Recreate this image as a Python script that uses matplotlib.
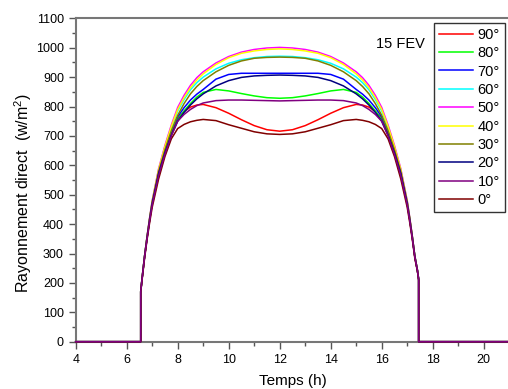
import matplotlib
matplotlib.use('Agg')
import matplotlib.pyplot as plt
from matplotlib.ticker import MultipleLocator

plt.rcParams['font.family'] = ['Liberation Sans', 'DejaVu Sans']
plt.rcParams['mathtext.fontset'] = 'custom'
plt.rcParams['mathtext.rm'] = 'Liberation Sans'
plt.rcParams['mathtext.it'] = 'Liberation Sans:italic'

# time samples (h)
times = [6.55, 6.6, 6.7, 6.8, 6.9, 7.0, 7.25, 7.5, 7.75, 8.0, 8.25, 8.5, 8.75, 9.0, 9.5, 10.0,
         10.5, 11.0, 11.5, 12.0, 12.5, 13.0, 13.5, 14.0, 14.5, 15.0, 15.25, 15.5, 15.75, 16.0,
         16.25, 16.5, 16.75, 17.0, 17.1, 17.2, 17.3, 17.4, 17.45]

v90 = [170, 212, 288, 354, 414, 469, 570, 643, 705, 760, 783, 798, 805, 807, 796, 777, 755, 735, 721, 716,
       721, 735, 755, 777, 796, 807, 805, 798, 783, 760, 705, 643, 570, 469, 414, 354, 288, 242, 211]
v80 = [171, 213, 290, 356, 417, 472, 575, 648, 708, 755, 785, 810, 832, 848, 858, 853, 844, 836, 830, 828,
       830, 836, 844, 853, 858, 848, 832, 810, 785, 755, 708, 648, 575, 472, 417, 356, 290, 243, 212]
v70 = [171, 213, 290, 357, 418, 474, 577, 651, 713, 765, 796, 822, 842, 858, 893, 909, 913, 913, 913, 913,
       913, 913, 913, 909, 893, 858, 842, 822, 796, 765, 713, 651, 577, 474, 418, 357, 290, 243, 212]
v60 = [172, 214, 291, 358, 420, 477, 583, 661, 728, 785, 824, 857, 881, 900, 928, 947, 959, 966, 970, 971,
       970, 966, 959, 947, 928, 900, 881, 857, 824, 785, 728, 661, 583, 477, 420, 358, 291, 244, 213]
v50 = [172, 215, 292, 360, 423, 480, 588, 668, 737, 797, 838, 872, 898, 918, 948, 970, 985, 994, 999, 1001,
       999, 994, 985, 970, 948, 918, 898, 872, 838, 797, 737, 668, 588, 480, 423, 360, 292, 245, 214]
v40 = [172, 214, 291, 359, 421, 478, 585, 664, 732, 790, 830, 864, 890, 911, 943, 966, 981, 989, 994, 996,
       994, 989, 981, 966, 943, 911, 890, 864, 830, 790, 732, 664, 585, 478, 421, 359, 291, 244, 213]
v30 = [171, 213, 290, 357, 418, 474, 578, 653, 717, 770, 810, 843, 868, 888, 918, 940, 955, 964, 967, 968,
       967, 964, 955, 940, 918, 888, 868, 843, 810, 770, 717, 653, 578, 474, 418, 357, 290, 243, 212]
v20 = [170, 212, 289, 355, 416, 471, 572, 643, 702, 750, 780, 805, 826, 843, 870, 888, 899, 904, 906, 907,
       906, 904, 899, 888, 870, 843, 826, 805, 780, 750, 702, 643, 572, 471, 416, 355, 289, 243, 212]
v10 = [170, 211, 287, 352, 412, 466, 565, 638, 700, 750, 773, 790, 803, 812, 820, 822, 822, 821, 820, 819,
       820, 821, 822, 822, 820, 812, 803, 790, 773, 750, 700, 638, 565, 466, 412, 352, 287, 242, 211]
v0 = [168, 208, 283, 348, 405, 457, 553, 630, 690, 725, 739, 748, 753, 756, 752, 738, 726, 714, 707, 705,
      707, 714, 726, 738, 752, 756, 753, 748, 739, 725, 690, 630, 553, 457, 405, 348, 283, 240, 209]

labels = ['90°', '80°', '70°', '60°', '50°', '40°', '30°', '20°', '10°', '0°']
colors = ['#FF0000', '#00FF00', '#0000FF', '#00FFFF', '#FF00FF', '#FFFF00',
          '#808000', '#000080', '#800080', '#800000']
series = [v90, v80, v70, v60, v50, v40, v30, v20, v10, v0]

fig = plt.figure(figsize=(5.08, 3.89), dpi=100)
W, H = 508.0, 389.0
ax = fig.add_axes([75.7 / W, 1 - 341.7 / H, (509.2 - 75.7) / W, (341.7 - 18.3) / H])

for i, (lab, col, vals) in enumerate(zip(labels, colors, series)):
    x = [4.0, times[0]] + times + [times[-1], 21.0]
    y = [0, 0] + vals + [0, 0]
    z = 5 if lab == '10°' else 2 + i * 0.1
    ax.plot(x, y, color=col, lw=1.1, label=lab, zorder=z, clip_on=False)

ax.set_xlim(4, 21)
ax.set_ylim(0, 1100)
ax.xaxis.set_major_locator(MultipleLocator(2))
ax.xaxis.set_minor_locator(MultipleLocator(1))
ax.yaxis.set_major_locator(MultipleLocator(100))
ax.yaxis.set_minor_locator(MultipleLocator(50))
ax.set_xticks(range(4, 21, 2))
ax.tick_params(which='both', direction='out', colors='#555555', labelcolor='black',
               labelsize=9, width=1)
ax.tick_params(which='major', length=5)
ax.tick_params(which='minor', length=3)

for s in ['top', 'left', 'bottom', 'right']:
    ax.spines[s].set_color('#777777')
    ax.spines[s].set_linewidth(1.5)

ax.set_xlabel('Temps (h)', fontsize=11, labelpad=6)
ax.set_ylabel('Rayonnement direct  (w/m$^2$)', fontsize=11.5)
ax.yaxis.set_label_coords(-0.096, 0.46)

ax.text(16.72, 1013, '15 FEV', fontsize=10.5, ha='center', va='center')

leg = ax.legend(loc='upper left', bbox_to_anchor=(434 / W, 1 - 22.7 / H),
                bbox_transform=fig.transFigure, frameon=True, fancybox=False,
                edgecolor='black', fontsize=10.5, handlelength=2.33, handletextpad=0.3,
                labelspacing=0.3, borderpad=0.35, borderaxespad=0)
leg.get_frame().set_linewidth(1.0)
leg.set_zorder(10)

fig.savefig('out.png', dpi=100)
